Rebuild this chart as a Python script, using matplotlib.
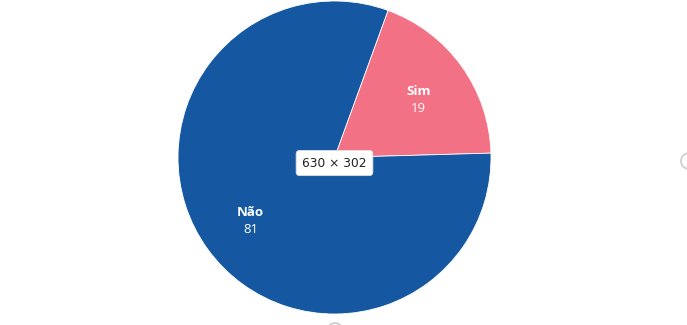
import matplotlib
matplotlib.use("Agg")
import matplotlib.pyplot as plt
import numpy as np
from matplotlib.patches import Circle

categories = ["Sim", "Não"]
values = [19, 81]
colors = ["#F37185", "#1557A0"]

W, H = 687, 325
cx, cy, R = 334.5, 157.5, 156.5

fig = plt.figure(figsize=(W / 100, H / 100), dpi=100)
ax = fig.add_axes([0, 0, 1, 1])

wedges, _ = ax.pie(values, colors=colors, startangle=70, counterclock=False,
                   radius=1.0, wedgeprops=dict(edgecolor="white", linewidth=0.6))
ax.set_xlim(-cx / R, (W - cx) / R)
ax.set_ylim(-(H - cy) / R, cy / R)
ax.set_aspect("auto")
ax.axis("off")

for w, cat, v in zip(wedges, categories, values):
    mid = np.deg2rad((w.theta1 + w.theta2) / 2)
    r = 0.66
    x, y = r * np.cos(mid), r * np.sin(mid)
    ax.text(x, y + 0.035, cat, ha="center", va="center", color="white",
            fontsize=9.5, fontweight="bold", family="Open Sans")
    ax.text(x, y - 0.072, str(v), ha="center", va="center", color="white",
            fontsize=9.5, family="Open Sans")

# tooltip-like size label
ax.text(0, (cy - 163) / R, "630 × 302", ha="center", va="center", fontsize=8.8,
        color="#222222", family="DejaVu Sans",
        bbox=dict(boxstyle="round,pad=0.5,rounding_size=0.3", fc="white",
                  ec="#dddddd", lw=0.6))

# faint resize handles
ax.add_patch(Circle(((689 - cx) / R, (cy - 161) / R), 8 / R, fill=False,
                    ec="#cccccc", lw=1.2, clip_on=True))
ax.add_patch(Circle(((335 - cx) / R, (cy - 331) / R), 8 / R, fill=False,
                    ec="#cccccc", lw=1.2, clip_on=True))

fig.savefig("out.png", dpi=100)
